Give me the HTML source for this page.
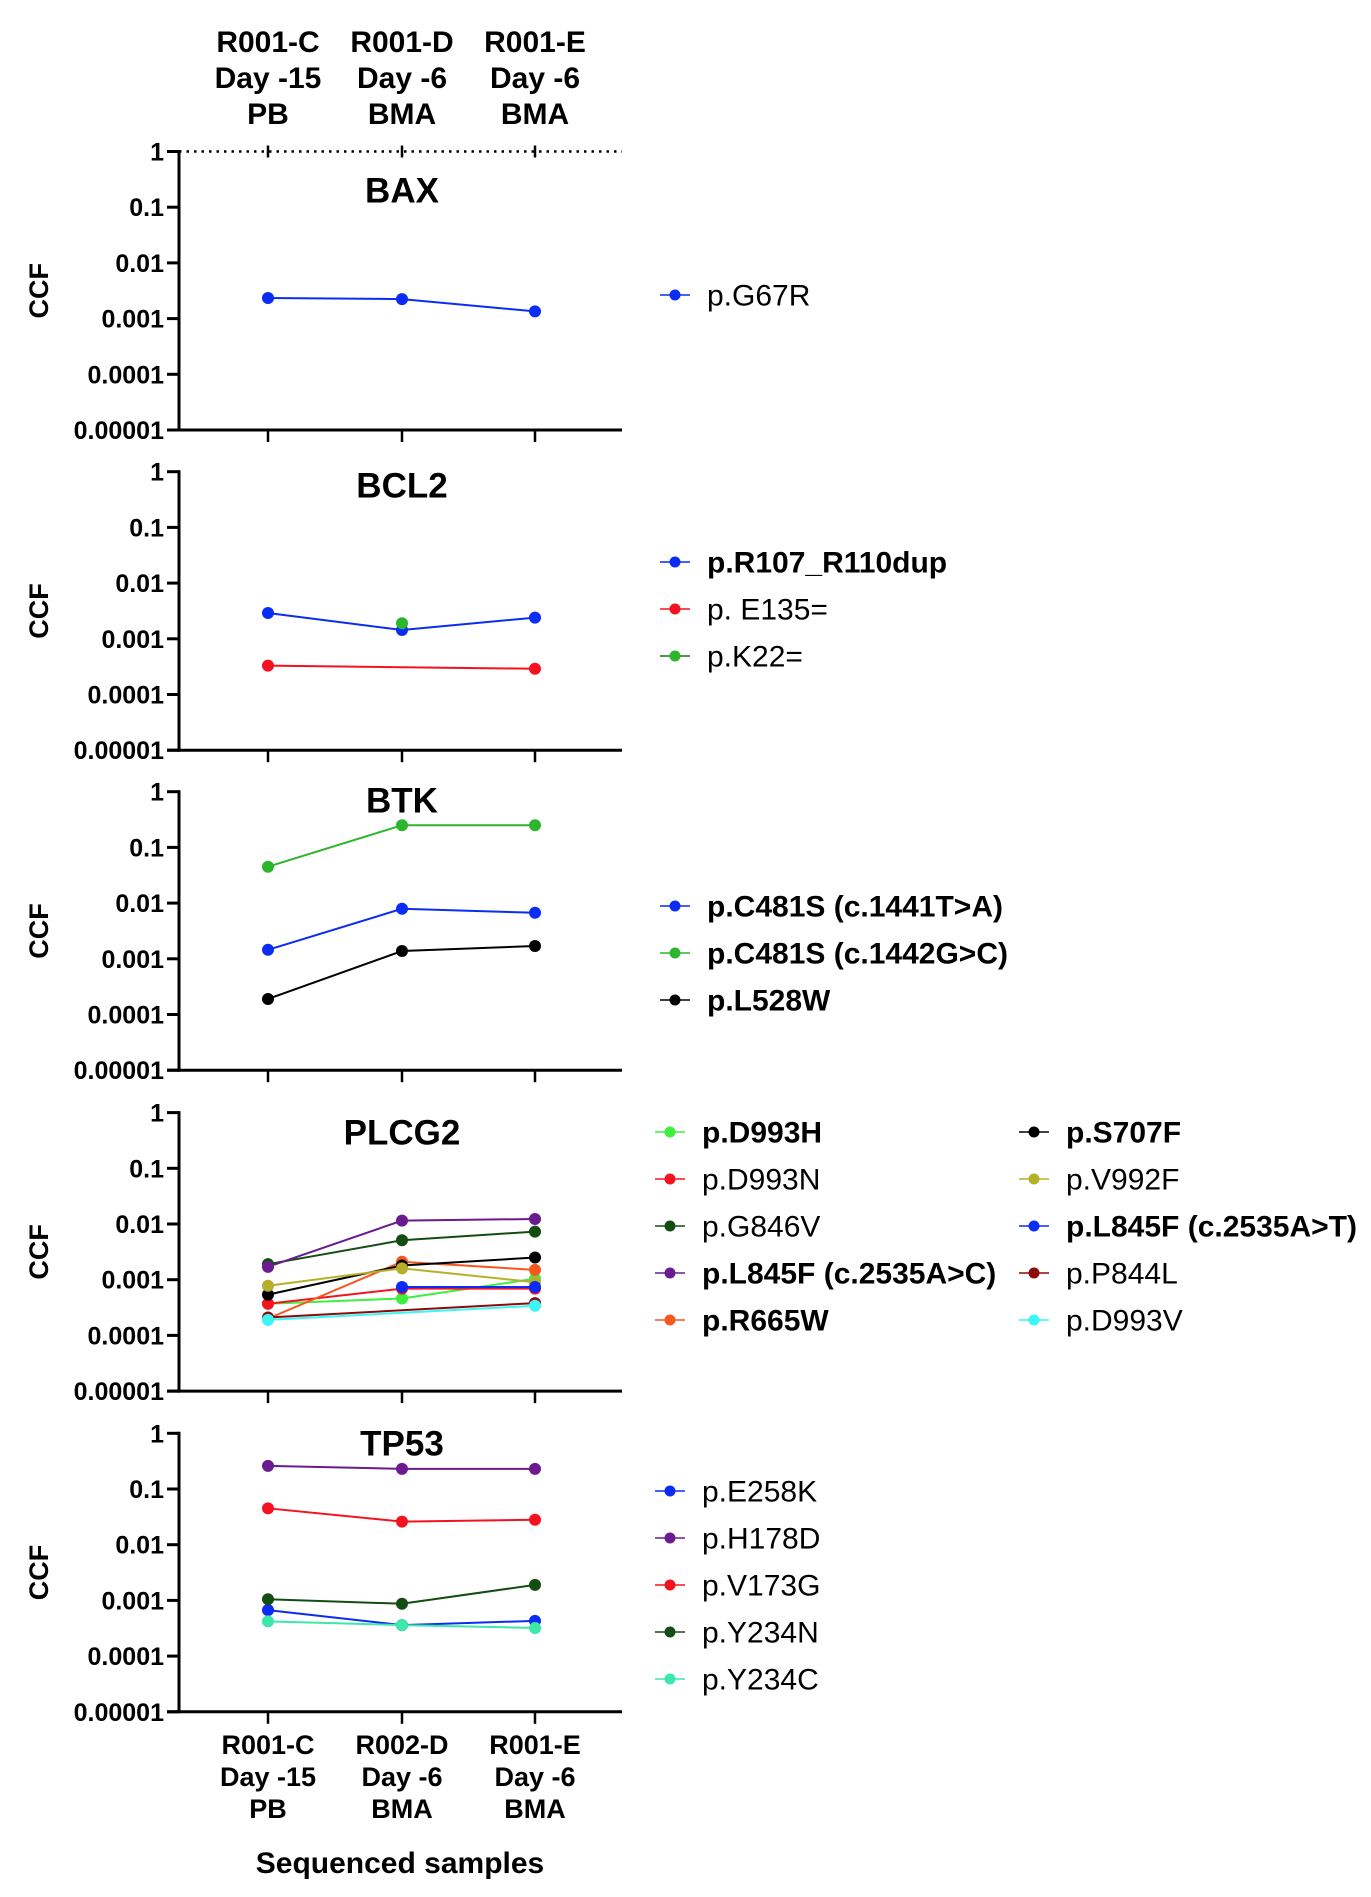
<!DOCTYPE html>
<html><head><meta charset="utf-8"><style>
html,body{margin:0;padding:0;background:#fff;}
svg{display:block;font-family:"Liberation Sans",Arial,sans-serif;}
</style></head><body>
<svg id="chart" width="1371" height="1897" viewBox="0 0 1371 1897"></svg>
<script>
const categories = ["C","D","E"];
const topLabels = [["R001-C","Day -15","PB"],["R001-D","Day -6","BMA"],["R001-E","Day -6","BMA"]];
const bottomLabels = [["R001-C","Day -15","PB"],["R002-D","Day -6","BMA"],["R001-E","Day -6","BMA"]];
const tickLabels = ["1","0.1","0.01","0.001","0.0001","0.00001"];
const panelTitles = ["BAX","BCL2","BTK","PLCG2","TP53"];

const baxNames = ["p.G67R"];
const baxColors = ["#0a2cf5"];
const baxBold = [false];
const baxValues = [[0.00234,0.00224,0.00135]];

const bcl2Names = ["p.R107_R110dup","p. E135=","p.K22="];
const bcl2Colors = ["#0a2cf5","#f51220","#1a6e1a"];
const bcl2Bold = [true,false,false];
const bcl2Values = [[0.0029,0.00144,0.0024],[0.00033,null,0.00029],[null,0.0019,null]];
const bcl2PointColors = ["#0a2cf5","#f51220","#2db52d"];

const btkNames = ["p.C481S (c.1441T>A)","p.C481S (c.1442G>C)","p.L528W"];
const btkColors = ["#0a2cf5","#2db52d","#000000"];
const btkBold = [true,true,true];
const btkValues = [[0.00145,0.0079,0.0067],[0.045,0.25,0.25],[0.00019,0.00138,0.0017]];

const plcNames = ["p.D993H","p.D993N","p.G846V","p.L845F (c.2535A>C)","p.R665W","p.S707F","p.V992F","p.L845F (c.2535A>T)","p.P844L","p.D993V"];
const plcColors = ["#3cf03c","#f51220","#134d13","#6a1b8f","#f5581e","#000000","#b5b02a","#0a2cf5","#8b0a0a","#3cf5f5"];
const plcBold = [true,false,false,true,true,true,false,true,false,false];
const plcValues = [
 [0.00037,0.00046,0.00104],
 [0.00037,0.00069,0.00069],
 [0.0019,0.0051,0.0073],
 [0.0017,0.0115,0.0123],
 [0.0002,0.0021,0.0015],
 [0.00054,0.0018,0.0025],
 [0.00078,0.0016,0.0009],
 [null,0.00074,0.00074],
 [0.00021,null,0.00038],
 [0.00019,null,0.00034]
];

const tpNames = ["p.E258K","p.H178D","p.V173G","p.Y234N","p.Y234C"];
const tpColors = ["#0a2cf5","#6a1b8f","#f51220","#134d13","#3de8a8"];
const tpBold = [false,false,false,false,false];
const tpValues = [[0.00067,0.00036,0.00043],[0.26,0.23,0.23],[0.045,0.026,0.028],[0.00105,0.00087,0.0019],[0.00042,0.00036,0.00032]];

const NS="http://www.w3.org/2000/svg";
const svg=document.getElementById('chart');
function el(tag,attrs,parent){const e=document.createElementNS(NS,tag);for(const k in attrs)e.setAttribute(k,attrs[k]);(parent||svg).appendChild(e);return e;}

const axisX=179, axisRight=622;
const catX=[268,402,535];
const decade=55.7;
const panelTops=[151.5,471.7,791.7,1112.6,1433.3];
const titleOffsets=[51,26,21,32,22];
const legendStarts=[295,562,906,1132,1491];
function xPos(i){return catX[i];}
function yPos(top,v){return top + (-Math.log10(v))*decade;}

topLabels.forEach((lines,i)=>{
  lines.forEach((t,j)=>{
    const tx=el('text',{x:xPos(i),y:52+j*36,'text-anchor':'middle','font-size':30,'font-weight':'bold'});
    
    
    tx.textContent=t;
  });
});
const dl=el('line',{x1:axisX,y1:panelTops[0],x2:axisRight,y2:panelTops[0],stroke:'#000','stroke-width':2.5,'stroke-dasharray':'2.5 5'});


catX.forEach(x=>{const t=el('line',{x1:x,y1:panelTops[0]-6,x2:x,y2:panelTops[0]+6,stroke:'#000','stroke-width':2.5});
 
 });

function drawPanel(p,names,colors,bold,values,pointColors,legendCols){
  const top=panelTops[p], bottom=top+5*decade;
  const g=el('g',{});
  
  
  el('line',{x1:axisX,y1:top-1.5,x2:axisX,y2:bottom+1.5,stroke:'#000','stroke-width':3},g);
  el('line',{x1:axisX-12,y1:bottom,x2:axisRight,y2:bottom,stroke:'#000','stroke-width':3},g);
  tickLabels.forEach((t,k)=>{
    const y=top+k*decade;
    el('line',{x1:axisX-12,y1:y,x2:axisX,y2:y,stroke:'#000','stroke-width':3},g);
    const tx=el('text',{x:164,y:y+9,'text-anchor':'end','font-size':25,'font-weight':'bold'},g);
    
    
    tx.textContent=t;
  });
  catX.forEach(x=>el('line',{x1:x,y1:bottom,x2:x,y2:bottom+12,stroke:'#000','stroke-width':2.5},g));
  const ttl=el('text',{x:402,y:top+titleOffsets[p],'text-anchor':'middle','font-size':35,'font-weight':'bold'},g);
  
  
  ttl.textContent=panelTitles[p];
  const ccf=el('text',{x:0,y:0,'text-anchor':'middle','font-size':27,'font-weight':'bold',transform:`translate(48,${top+2.5*decade}) rotate(-90)`},g);
  
  
  ccf.textContent='CCF';
  values.forEach((vals,s)=>{
    const pts=[];
    vals.forEach((v,i)=>{if(v!=null)pts.push([xPos(i),yPos(top,v)]);});
    if(pts.length>1){
      const pl=el('polyline',{points:pts.map(q=>q.join(',')).join(' '),fill:'none',stroke:colors[s],'stroke-width':2},g);
      
      
    }
  });
  values.forEach((vals,s)=>{
    vals.forEach((v,i)=>{if(v==null)return;
      const c=el('circle',{cx:xPos(i),cy:yPos(top,v),r:6,fill:(pointColors||colors)[s]},g);
      
      
    });
  });
  const n=names.length;
  const perCol=Math.ceil(n/legendCols.length);
  const rowH=47;
  const startY=legendStarts[p];
  names.forEach((nm,s)=>{
    const col=Math.floor(s/perCol), row=s%perCol;
    const mx=legendCols[col], y=startY+row*rowH;
    const lg=el('g',{},g);
    
    
    el('line',{x1:mx-15,y1:y,x2:mx+15,y2:y,stroke:colors[s],'stroke-width':1.5},lg);
    el('circle',{cx:mx,cy:y,r:5.5,fill:(pointColors||colors)[s]},lg);
    const tx=el('text',{x:mx+32,y:y+10.5,'font-size':30,'font-weight':bold[s]?'bold':'normal'},lg);
    tx.textContent=nm;
  });
}
drawPanel(0,baxNames,baxColors,baxBold,baxValues,null,[675]);
drawPanel(1,bcl2Names,bcl2Colors,bcl2Bold,bcl2Values,bcl2PointColors,[675]);
drawPanel(2,btkNames,btkColors,btkBold,btkValues,null,[675]);
drawPanel(3,plcNames,plcColors,plcBold,plcValues,null,[670,1034]);
drawPanel(4,tpNames,tpColors,tpBold,tpValues,null,[670]);

bottomLabels.forEach((lines,i)=>{
  lines.forEach((t,j)=>{
    const tx=el('text',{x:xPos(i),y:1754+j*32,'text-anchor':'middle','font-size':27,'font-weight':'bold'});
    
    
    tx.textContent=t;
  });
});
const xt=el('text',{x:400,y:1873,'text-anchor':'middle','font-size':30,'font-weight':'bold'});


xt.textContent='Sequenced samples';
</script>
</body></html>
